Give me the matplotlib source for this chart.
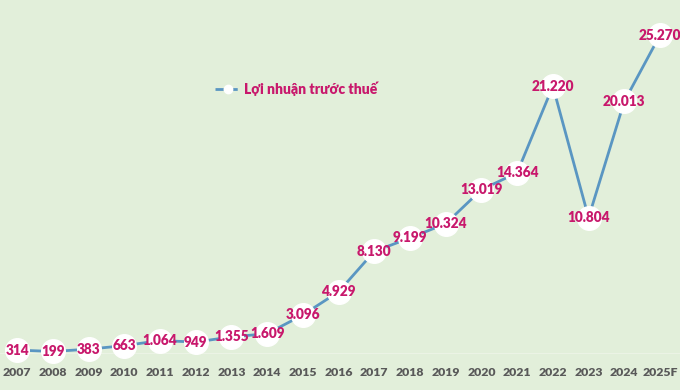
import matplotlib
matplotlib.use('Agg')
import matplotlib.pyplot as plt

YEARS = ['2007', '2008', '2009', '2010', '2011', '2012', '2013', '2014', '2015',
         '2016', '2017', '2018', '2019', '2020', '2021', '2022', '2023', '2024',
         '2025F']
PROFIT = [314, 199, 383, 663, 1064, 949, 1355, 1609, 3096, 4929, 8130, 9199,
          10324, 13019, 14364, 21220, 10804, 20013, 25270]
SERIES_NAME = 'Lợi nhuận trước thuế'

BG = '#E2EFDA'
LINE_COLOR = '#5A96C2'
TEXT_COLOR = '#C8186C'

plt.rcParams['font.family'] = ['Lato', 'DejaVu Sans']


def fmt(v):
    return f'{v:,}'.replace(',', '.')


fig = plt.figure(figsize=(6.8, 3.9), dpi=100, facecolor=BG)
ax = fig.add_axes([0, 0.0923, 1, 0.9077])
ax.set_facecolor(BG)

x = list(range(len(YEARS)))
ax.plot(x, PROFIT, color=LINE_COLOR, lw=2, marker='o', markersize=17,
        markerfacecolor='white', markeredgecolor='white', clip_on=False,
        zorder=2, label=SERIES_NAME)
for xi, v in zip(x, PROFIT):
    ax.text(xi, v, fmt(v), ha='center', va='center', color=TEXT_COLOR,
            fontsize=9.8, fontweight='heavy', zorder=3)

ax.set_xlim(-0.48, 18.56)
ax.set_ylim(0, 28050)
ax.set_xticks(x)
ax.set_xticklabels(YEARS, fontsize=8.8, fontweight='heavy', color='#595959')
ax.tick_params(axis='x', length=0, pad=9)
ax.set_yticks([])
for s in ax.spines.values():
    s.set_visible(False)
ax.axhline(0, color='#EDF4E8', lw=1.2, zorder=1)

# legend handle drawn separately (dashed line with small marker)
handle, = ax.plot([], [], color=LINE_COLOR, lw=2, ls=(0, (3, 2)), marker='o',
                  markersize=6, markerfacecolor='white', markeredgecolor='white')
leg = ax.legend([handle], [SERIES_NAME], loc='upper left',
                bbox_to_anchor=(0.298, 0.805), frameon=False, handlelength=1.8,
                handletextpad=0.3, prop={'size': 10, 'weight': 'heavy'})
for t in leg.get_texts():
    t.set_color(TEXT_COLOR)

fig.savefig('out.png', dpi=100, facecolor=BG)
